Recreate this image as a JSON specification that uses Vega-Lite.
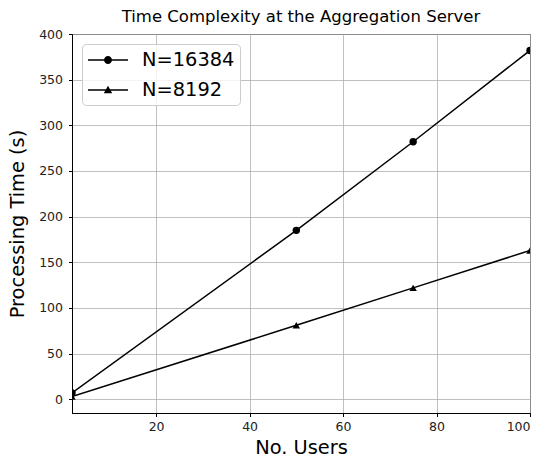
{
  "$schema": "https://vega.github.io/schema/vega-lite/v6.json",
  "width": 458,
  "height": 379,
  "autosize": {"type": "none"},
  "padding": {"left": 72, "right": 15, "top": 34, "bottom": 46},
  "background": "white",
  "config": {
    "font": "DejaVu Sans",
    "view": {"stroke": "black", "strokeWidth": 1},
    "axis": {
      "grid": true,
      "gridColor": "#b0b0b0",
      "gridWidth": 0.8,
      "domainColor": "black",
      "tickColor": "black",
      "tickSize": 3.5,
      "labelFontSize": 12.5,
      "labelColor": "#222",
      "titleFontSize": 19.4,
      "titleFontWeight": "normal",
      "titleColor": "black",
      "labelPadding": 4
    }
  },
  "title": {"text": "Time Complexity at the Aggregation Server", "fontSize": 16.5, "fontWeight": "normal", "color": "black", "offset": 3, "anchor": "middle"},
  "data": {
    "values": [
      {"users": 2, "time": 7, "series": "N=16384"},
      {"users": 50, "time": 185, "series": "N=16384"},
      {"users": 75, "time": 282, "series": "N=16384"},
      {"users": 100, "time": 382, "series": "N=16384"},
      {"users": 2, "time": 3, "series": "N=8192"},
      {"users": 50, "time": 81, "series": "N=8192"},
      {"users": 75, "time": 122, "series": "N=8192"},
      {"users": 100, "time": 163, "series": "N=8192"}
    ]
  },
  "encoding": {
    "x": {"field": "users", "type": "quantitative", "scale": {"domain": [2, 100], "nice": false, "zero": false},
      "axis": {"values": [20, 40, 60, 80, 100], "title": "No. Users", "titlePadding": 5}},
    "y": {"field": "time", "type": "quantitative", "scale": {"domain": [-15, 400], "nice": false, "zero": false},
      "axis": {"values": [0, 50, 100, 150, 200, 250, 300, 350, 400], "title": "Processing Time (s)", "titlePadding": 11, "labelPadding": 6}}
  },
  "layer": [
    {
      "mark": {"type": "line", "color": "black", "strokeWidth": 1.5, "clip": true},
      "encoding": {"detail": {"field": "series"}}
    },
    {
      "mark": {"type": "point", "filled": true, "color": "black", "size": 55, "opacity": 1, "clip": true},
      "encoding": {
        "shape": {"field": "series", "type": "nominal", "scale": {"domain": ["N=16384", "N=8192"], "range": ["circle", "triangle-up"]}, "legend": null}
      }
    },
    {
      "mark": {"type": "point", "filled": true, "color": "black", "size": 400, "opacity": 0, "clip": true},
      "encoding": {
        "shape": {"field": "series", "type": "nominal",
          "scale": {"domain": ["N=16384", "N=8192"], "range": [
            "M-2,-0.075L2,-0.075L2,0.075L-2,0.075ZM0.4,0A0.4,0.4 0 1 1 -0.4,0A0.4,0.4 0 1 1 0.4,0Z",
            "M-2,-0.075L2,-0.075L2,0.075L-2,0.075ZM0,-0.42L0.42,0.32L-0.42,0.32Z"
          ]},
          "legend": {
            "title": null,
            "orient": "top-left",
            "offset": 10,
            "labelFontSize": 19.4,
            "labelColor": "black",
            "symbolSize": 400,
            "symbolOffset": 10,
            "strokeColor": "#cccccc",
            "fillColor": "rgba(255,255,255,0.8)",
            "cornerRadius": 4,
            "padding": 5,
            "rowPadding": 9,
            "labelOffset": 23,
            "encode": {"symbols": {"update": {"opacity": {"value": 1}, "fillOpacity": {"value": 1}, "size": {"value": 400}, "fill": {"value": "black"}}}}
          }
        }
      }
    }
  ],
  "resolve": {"scale": {"shape": "independent"}}
}
